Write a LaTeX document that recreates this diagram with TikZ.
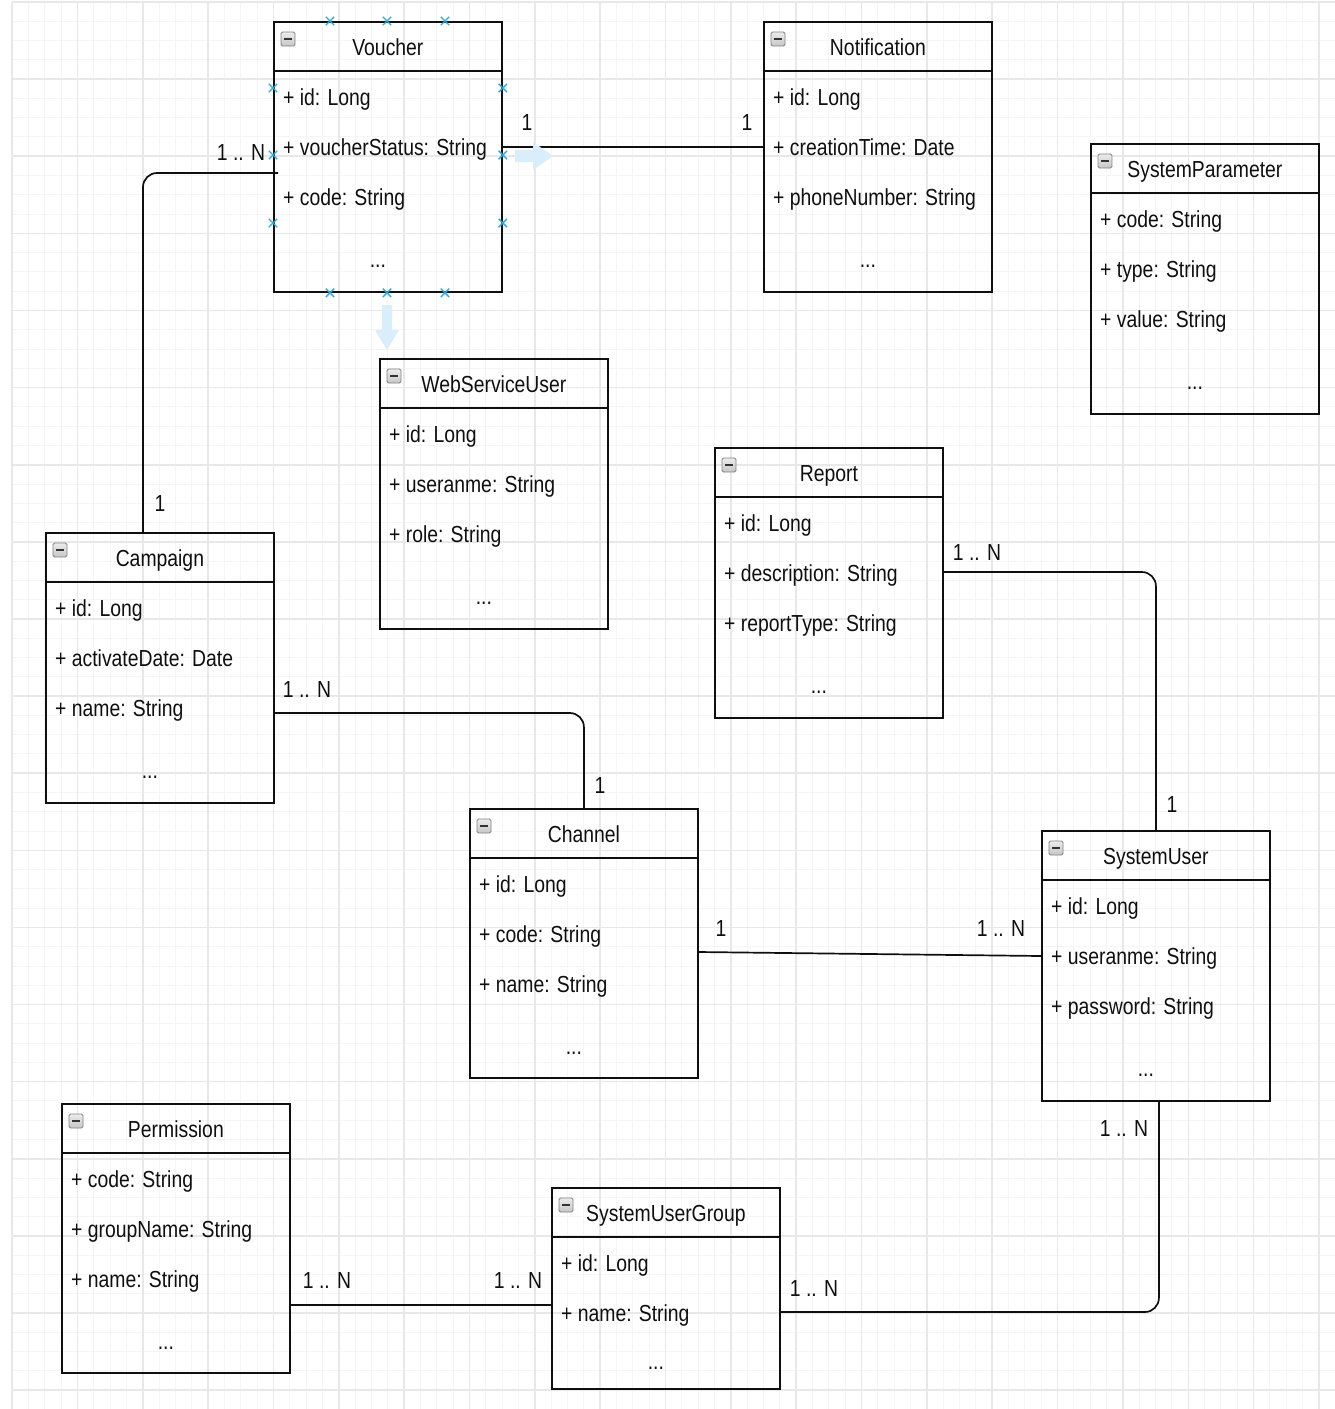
\documentclass[tikz,border=0pt]{standalone}
\usepackage{fontspec}
\newfontfamily\diafont{Liberation Sans}[FakeStretch=0.835]
\usetikzlibrary{shapes.misc}
\definecolor{gridminorc}{RGB}{245,245,245}
\definecolor{gridmajorc}{RGB}{232,232,232}
\definecolor{selblue}{RGB}{41,170,225}
\definecolor{paleblue}{RGB}{216,238,250}
\definecolor{inkc}{RGB}{15,15,15}
\definecolor{iconedge}{RGB}{130,130,130}

\tikzset{
  classbox/.style={draw=inkc, line width=1.8pt, minimum width=228pt, inner sep=0pt, anchor=north west},
  divider/.style={draw=inkc, line width=1.8pt},
  conn/.style={draw=inkc, line width=1.7pt, rounded corners=14pt},
  txt/.style={font=\diafont\fontsize{23.2}{28}\selectfont, text=inkc, inner sep=0pt, text height=16.6pt, text depth=0pt},
  attrtext/.style={txt, anchor=west},
  dotstext/.style={txt, anchor=base},
  mult/.style={txt},
  minusicon/.style={draw=iconedge, line width=0.9pt, rounded corners=1.5pt, minimum size=14pt, inner sep=0pt, top color=gray!15, bottom color=gray!45},
  minusbar/.style={draw=black!80, line width=2pt},
  selmark/.style={cross out, draw=selblue, line width=1.4pt, minimum size=7pt, inner sep=0pt},
  hoverarrow/.style={fill=paleblue, draw=none},
  minorline/.style={draw=gridminorc, line width=1pt},
  majorline/.style={draw=gridmajorc, line width=1.6pt},
}

\newcommand\umlclass[7]{%
  \node[classbox, minimum height=#4pt] (#1) at (#2,#3) {};
  \draw[divider] ([yshift=-50pt]#1.north west) -- ([yshift=-50pt]#1.north east);
  \node[txt] (#1-title) at ([yshift=-26pt]#1.north) {#5};
  \node[minusicon] (#1-icon) at ([xshift=15pt,yshift=-18pt]#1.north west) {};
  \draw[minusbar] ([xshift=-4pt]#1-icon.center) -- ([xshift=4pt]#1-icon.center);
  \foreach \a [count=\i] in {#6} {\node[attrtext] (#1-a\i) at ([xshift=10pt,yshift={-(26+50*\i)*1pt}]#1.north west) {\a};}
  \node[dotstext] (#1-dots) at ([xshift=-10pt,yshift=-#7pt]#1.north) {...};
}

\begin{document}
\begin{tikzpicture}[x=1pt,y=-1pt]
\useasboundingbox (0,0) rectangle (1335,1409);
% grid
\foreach \i in {0,...,81} \draw[minorline] ({12+\i*16.3375},2) -- ({12+\i*16.3375},1409);
\foreach \i in {0,...,73} \draw[minorline] (12,{2+\i*19.28}) -- (1335,{2+\i*19.28});
\foreach \i in {0,...,20} \draw[majorline] ({12+\i*65.35},2) -- ({12+\i*65.35},1409);
\foreach \i in {0,...,18} \draw[majorline] (12,{2+\i*77.12}) -- (1335,{2+\i*77.12});

% classes
\umlclass{voucher}{273}{21}{270}{Voucher}{+ id: Long, + voucherStatus: String, + code: String}{246}
\umlclass{notification}{763}{21}{270}{Notification}{+ id: Long, + creationTime: Date, + phoneNumber: String}{246}
\umlclass{sysparam}{1090}{143}{270}{SystemParameter}{+ code: String, + type: String, + value: String}{246}
\umlclass{wsuser}{379}{358}{270}{WebServiceUser}{+ id: Long, + useranme: String, + role: String}{246}
\umlclass{report}{714}{447}{270}{Report}{+ id: Long, + description: String, + reportType: String}{246}
\umlclass{campaign}{45}{532}{270}{Campaign}{+ id: Long, + activateDate: Date, + name: String}{246}
\umlclass{channel}{469}{808}{269}{Channel}{+ id: Long, + code: String, + name: String}{246}
\umlclass{systemuser}{1041}{830}{270}{SystemUser}{+ id: Long, + useranme: String, + password: String}{246}
\umlclass{permission}{61}{1103}{269}{Permission}{+ code: String, + groupName: String, + name: String}{246}
\umlclass{sug}{551}{1187}{201}{SystemUserGroup}{+ id: Long, + name: String}{182}

% connectors
\draw[conn] ([yshift=-126pt]voucher.north east) -- ([yshift=-126pt]notification.north west);
\draw[conn] ([xshift=5pt,yshift=-152pt]voucher.north west) -| ([xshift=98pt]campaign.north west);
\draw[conn] ([yshift=-181pt]campaign.north east) -| (channel.north);
\draw[conn] ([yshift=-125pt]report.north east) -| (systemuser.north);
\draw[conn] ([yshift=-144pt]channel.north east) -- ([yshift=-126pt]systemuser.north west);
\draw[conn] ([yshift=-202pt]permission.north east) -- ([yshift=-118pt]sug.north west);
\draw[conn] ([yshift=-125pt]sug.north east) -| ([xshift=3pt]systemuser.south);

% multiplicities
\node[mult] (m1) at (527,122) {1};
\node[mult] (m2) at (747,122) {1};
\node[mult] (m3) at (241,152) {1 .. N};
\node[mult] (m4) at (160,503) {1};
\node[mult] (m5) at (307,689) {1 .. N};
\node[mult] (m6) at (600,785) {1};
\node[mult] (m7) at (977,552) {1 .. N};
\node[mult] (m8) at (1172,804) {1};
\node[mult] (m9) at (721,928) {1};
\node[mult] (m10) at (1001,928) {1 .. N};
\node[mult] (m11) at (327,1280) {1 .. N};
\node[mult] (m12) at (518,1280) {1 .. N};
\node[mult] (m13) at (814,1288) {1 .. N};
\node[mult] (m14) at (1124,1128) {1 .. N};

% selection handles on Voucher
\foreach \dx [count=\k] in {57,114,172} {
  \node[selmark] (vt\k) at ([xshift=\dx pt]voucher.north west) {};
  \node[selmark] (vb\k) at ([xshift=\dx pt]voucher.south west) {};
}
\foreach \dy [count=\k] in {67,134,202} {
  \node[selmark] (vl\k) at ([yshift=-\dy pt]voucher.north west) {};
  \node[selmark] (vr\k) at ([yshift=-\dy pt]voucher.north east) {};
}

% hover arrows
\fill[hoverarrow] (515,150) -- (533,150) -- (533,142) -- (553,156) -- (533,170) -- (533,162) -- (515,162) -- cycle;
\fill[hoverarrow] (382,305) -- (392,305) -- (392,330) -- (399,330) -- (387,350) -- (375,330) -- (382,330) -- cycle;
\end{tikzpicture}
\end{document}
